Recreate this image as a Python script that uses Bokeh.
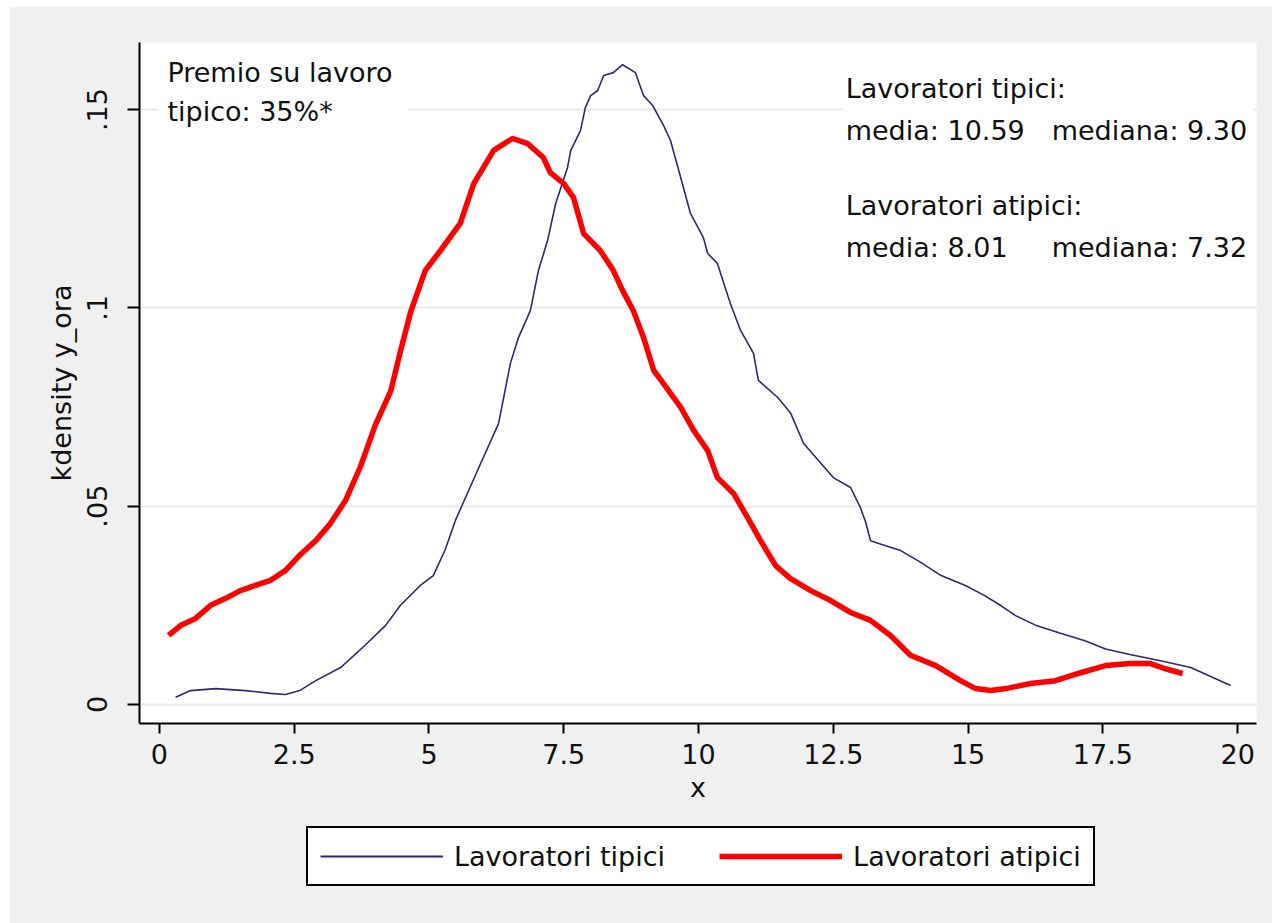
from bokeh.plotting import figure
from bokeh.layouts import column
from bokeh.models import Range1d, FixedTicker, Legend, LegendItem, Label, BoxAnnotation
from bokeh.embed import file_html
from bokeh.resources import INLINE

# ---- data ----
tip_x = [0.3, 0.58, 1.04, 1.6, 2.06, 2.34, 2.6, 2.9, 3.36, 3.82, 4.2, 4.47, 4.84, 5.08,
         5.3, 5.49, 5.90, 6.29, 6.51, 6.66, 6.88, 7.03, 7.20, 7.35, 7.57, 7.63, 7.81, 7.90,
         8.00, 8.13, 8.24, 8.42, 8.59, 8.83, 8.98, 9.15, 9.35, 9.48, 9.67, 9.85, 10.09,
         10.17, 10.35, 10.59, 10.78, 11.02, 11.11, 11.47, 11.71, 11.95, 12.50, 12.82, 13.0,
         13.1, 13.19, 13.47, 13.75, 14.1, 14.5, 14.95, 15.3, 15.6, 15.88, 16.25, 16.7,
         17.18, 17.55, 18.0, 18.57, 19.13, 19.87]
tip_y = [0.0018, 0.0035, 0.004, 0.0035, 0.0028, 0.0025, 0.0035, 0.006, 0.0093, 0.015,
         0.020, 0.025, 0.030, 0.0325, 0.039, 0.0464, 0.0590, 0.0708, 0.0860, 0.0925, 0.0993,
         0.1094, 0.1170, 0.1263, 0.1354, 0.1397, 0.1447, 0.1505, 0.1535, 0.1548, 0.1586,
         0.1593, 0.1613, 0.1593, 0.1535, 0.1510, 0.1460, 0.1422, 0.1328, 0.1238, 0.1177,
         0.1137, 0.1112, 0.1011, 0.0943, 0.0885, 0.0817, 0.0774, 0.0734, 0.0658, 0.0572,
         0.0547, 0.0497, 0.046, 0.0413, 0.040, 0.0388, 0.036, 0.0325, 0.030, 0.0275, 0.025,
         0.0224, 0.020, 0.018, 0.016, 0.014, 0.0126, 0.011, 0.0093, 0.0048]

ati_x = [0.17, 0.39, 0.67, 0.95, 1.22, 1.5, 1.78, 2.06, 2.34, 2.6, 2.9, 3.17, 3.45, 3.73,
         4.0, 4.29, 4.47, 4.66, 4.93, 5.21, 5.58, 5.83, 6.20, 6.55, 6.83, 7.12, 7.25, 7.50,
         7.68, 7.87, 8.18, 8.42, 8.59, 8.79, 8.98, 9.17, 9.35, 9.67, 9.91, 10.17, 10.35,
         10.65, 10.91, 11.15, 11.43, 11.7, 12.08, 12.45, 12.82, 13.19, 13.56, 13.93, 14.4,
         14.86, 15.14, 15.42, 15.7, 16.16, 16.62, 17.09, 17.55, 18.0, 18.38, 18.66, 18.98]
ati_y = [0.0174, 0.0199, 0.0217, 0.025, 0.0267, 0.0287, 0.030, 0.0313, 0.0338, 0.0376,
         0.0413, 0.0456, 0.0514, 0.060, 0.0703, 0.079, 0.089, 0.099, 0.1094, 0.1144,
         0.1213, 0.1313, 0.1397, 0.1427, 0.1414, 0.1379, 0.1341, 0.1313, 0.1278, 0.1187,
         0.1144, 0.1094, 0.1044, 0.0993, 0.0925, 0.0842, 0.0809, 0.0749, 0.0691, 0.0640,
         0.0572, 0.0532, 0.0471, 0.0413, 0.035, 0.0318, 0.0287, 0.0262, 0.0232, 0.0212,
         0.0174, 0.0124, 0.0098, 0.006, 0.004, 0.0035, 0.004, 0.0053, 0.006, 0.008, 0.0098,
         0.0103, 0.0103, 0.009, 0.0078]

x_ticks = [0, 2.5, 5, 7.5, 10, 12.5, 15, 17.5, 20]
x_tick_labels = ["0", "2.5", "5", "7.5", "10", "12.5", "15", "17.5", "20"]
y_ticks = [0, 0.05, 0.1, 0.15]
y_tick_labels = ["0", ".05", ".1", ".15"]

series_names = ["Lavoratori tipici", "Lavoratori atipici"]
note_left = ["Premio su lavoro", "tipico: 35%*"]
stats_head = ["Lavoratori tipici:", "Lavoratori atipici:"]
stats_media = ["media: 10.59", "media: 8.01"]
stats_mediana = ["mediana: 9.30", "mediana: 7.32"]

FONT = "DejaVu Sans"
FS = "27px"
TXT = "#111111"
BLUE = "#2b2b6e"
RED = "#ff0000"
BG = "#f0f0f0"

p = figure(width=1262, height=816, output_backend="svg", toolbar_location=None,
           x_range=Range1d(-0.37, 20.35), y_range=Range1d(-0.0048, 0.1669),
           min_border_left=129, min_border_right=16, min_border_top=35,
           min_border_bottom=100)
p.border_fill_color = BG
p.background_fill_color = "white"
p.outline_line_color = None

# grid
p.xgrid.grid_line_color = None
p.ygrid.ticker = FixedTicker(ticks=y_ticks)
p.ygrid.grid_line_color = "#eaeaea"
p.ygrid.grid_line_width = 2

# axes
for ax in (p.xaxis[0], p.yaxis[0]):
    ax.axis_line_color = "black"
    ax.axis_line_width = 2
    ax.major_tick_line_color = "black"
    ax.major_tick_line_width = 2
    ax.minor_tick_line_color = None
    ax.major_tick_in = 0
    ax.major_label_text_font = FONT
    ax.major_label_text_font_size = FS
    ax.major_label_text_color = TXT
    ax.axis_label_text_font = FONT
    ax.axis_label_text_font_size = FS
    ax.axis_label_text_font_style = "normal"
    ax.axis_label_text_color = TXT

p.xaxis.ticker = FixedTicker(ticks=x_ticks)
p.xaxis.major_label_overrides = {t: l for t, l in zip(x_ticks, x_tick_labels)}
p.xaxis.major_tick_out = 10
p.xaxis.major_label_standoff = 10
p.xaxis.axis_label = "x"
p.xaxis.axis_label_standoff = 5

p.yaxis.ticker = FixedTicker(ticks=y_ticks)
p.yaxis.major_label_overrides = {t: l for t, l in zip(y_ticks, y_tick_labels)}
p.yaxis.major_tick_out = 12
p.yaxis.major_label_standoff = 20
p.yaxis.major_label_orientation = "vertical"
p.yaxis.axis_label = "kdensity y_ora"
p.yaxis.axis_label_standoff = 8

# white boxes behind the text blocks (as in the original)
p.add_layout(BoxAnnotation(left=-0.02, right=4.6, top=0.1659, bottom=0.1445,
                           fill_color="white", fill_alpha=1, line_color=None,
                           level="underlay"))
p.add_layout(BoxAnnotation(left=12.69, right=20.3, top=0.161, bottom=0.110,
                           fill_color="white", fill_alpha=1, line_color=None,
                           level="underlay"))

p.line(tip_x, tip_y, line_color=BLUE, line_width=1.6)
p.line(ati_x, ati_y, line_color=RED, line_width=5.5, line_join="round")

DY = 0.0025
def lab(x, y, t):
    p.add_layout(Label(x=x, y=y + DY, text=t, text_font=FONT, text_font_size=FS,
                       text_color=TXT, text_baseline="alphabetic", text_align="left"))

lab(0.148, 0.1568, note_left[0])
lab(0.148, 0.1470, note_left[1])
lab(12.73, 0.1528, stats_head[0])
lab(12.73, 0.1422, stats_media[0])
lab(16.55, 0.1422, stats_mediana[0])
lab(12.73, 0.1233, stats_head[1])
lab(12.73, 0.1127, stats_media[1])
lab(16.55, 0.1127, stats_mediana[1])

# legend strip below the plot (same series, drawn out of view so only the key shows)
p2 = figure(width=1262, height=100, output_backend="svg", toolbar_location=None,
            x_range=Range1d(0, 1), y_range=Range1d(10, 11),
            x_axis_type=None, y_axis_type=None,
            min_border_left=0, min_border_right=0, min_border_top=0, min_border_bottom=0)
p2.border_fill_alpha = 0
p2.background_fill_alpha = 0
p2.outline_line_color = None
p2.grid.grid_line_color = None
k1 = p2.line(tip_x, tip_y, line_color=BLUE, line_width=2)
k2 = p2.line(ati_x, ati_y, line_color=RED, line_width=5.5)

legend = Legend(items=[LegendItem(label=series_names[0], renderers=[k1]),
                       LegendItem(label=series_names[1], renderers=[k2])],
                orientation="horizontal", location=(167, 37))
legend.label_text_font = FONT
legend.label_text_font_size = FS
legend.label_text_color = TXT
legend.border_line_color = "black"
legend.border_line_width = 2
legend.border_line_alpha = 1
legend.background_fill_color = "white"
legend.background_fill_alpha = 1
legend.glyph_width = 123
legend.glyph_height = 32
legend.label_height = 32
legend.label_standoff = 11
legend.spacing = 54
legend.padding = 12
legend.margin = 0
p2.add_layout(legend, "center")

layout = column(p, p2, spacing=0, margin=(7, 0, 0, 10),
                styles={"background-color": BG})
open("out.html", "w").write(file_html(layout, INLINE))
